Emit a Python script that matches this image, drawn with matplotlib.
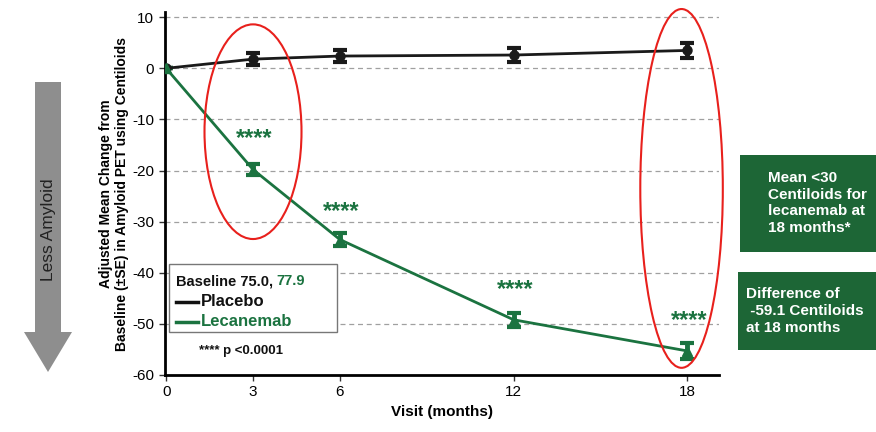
import matplotlib
matplotlib.use("Agg")
import matplotlib.pyplot as plt
from matplotlib.patches import Ellipse, FancyArrow, Rectangle
from matplotlib.lines import Line2D

plt.rcParams['font.family'] = ['Liberation Sans', 'DejaVu Sans']
plt.rcParams['axes.unicode_minus'] = False

visits = [0, 3, 6, 12, 18]
placebo = [0.0, 1.8, 2.4, 2.6, 3.5]
placebo_se = [0.0, 1.2, 1.2, 1.3, 1.4]
lecanemab = [0.0, -19.8, -33.5, -49.2, -55.3]
lecanemab_se = [0.0, 1.1, 1.3, 1.4, 1.5]
star_visits = [3, 6, 12, 18]
star_y = [-12.8, -27.0, -42.3, -48.4]
xticks = [0, 3, 6, 12, 18]
yticks = [10, 0, -10, -20, -30, -40, -50, -60]

green = '#1b7340'
boxgreen = '#1d6636'

fig = plt.figure(figsize=(8.76, 4.32), dpi=100)
ax = fig.add_axes([0.188, 0.132, 0.633, 0.840])

ax.set_xlim(-0.05, 19.1)
ax.set_ylim(-60, 11)
for y in yticks[:-1]:
    ax.axhline(y, color='#a0a0a0', lw=0.9, ls=(0, (4, 3)), zorder=0)

ax.errorbar(visits, placebo, yerr=placebo_se, color='#1a1a1a', lw=2.0,
            marker='o', ms=6.5, capsize=5, capthick=3, elinewidth=3.5, zorder=3)
ax.errorbar(visits, lecanemab, yerr=lecanemab_se, color=green, lw=2.0,
            marker='^', ms=7.5, capsize=5, capthick=3, elinewidth=3.5, zorder=3)

for xv, yv in zip(star_visits, star_y):
    ax.text(xv + 0.05, yv - 2.3, '****', color=green, fontsize=17, fontweight='bold',
            ha='center', va='baseline')

ax.add_patch(Ellipse((3.0, -12.4), 3.35, 42, fill=False, ec='#e8201c', lw=1.5,
                     clip_on=False, zorder=4))
ax.add_patch(Ellipse((17.8, -23.5), 2.85, 70.2, fill=False, ec='#e8201c', lw=1.5,
                     clip_on=False, zorder=4))

ax.set_xticks(xticks)
ax.set_yticks(yticks)
ax.tick_params(labelsize=11, length=4, width=1, color='#333333')
for s in ['top', 'right']:
    ax.spines[s].set_visible(False)
for s in ['left', 'bottom']:
    ax.spines[s].set_linewidth(2)
ax.set_xlabel('Visit (months)', fontsize=11, fontweight='bold', labelpad=4)
ax.set_ylabel('Adjusted Mean Change from\nBaseline (\u00b1SE) in Amyloid PET using Centiloids',
              fontsize=10, fontweight='bold', labelpad=2)

# legend box
ax.add_patch(Rectangle((0.1, -51.5), 5.8, 13.2, fill=True, fc='white',
                       ec='#777777', lw=1, zorder=5))
t1 = ax.text(0.35, -41.7, 'Baseline 75.0,', fontsize=10.5, fontweight='bold',
             color='#111111', va='center', zorder=6)
fig.canvas.draw()
bb = t1.get_window_extent()
x_end = ax.transData.inverted().transform((bb.x1 + 3, bb.y0))[0]
ax.text(x_end, -41.7, '77.9', fontsize=10.5, fontweight='bold', color=green,
        va='center', zorder=6)
ax.add_line(Line2D([0.35, 1.1], [-45.7, -45.7], color='#111111', lw=2.5, zorder=6))
ax.text(1.2, -45.7, 'Placebo', fontsize=12, fontweight='bold', color='#111111',
        va='center', zorder=6)
ax.add_line(Line2D([0.35, 1.1], [-49.6, -49.6], color=green, lw=2.5, zorder=6))
ax.text(1.2, -49.6, 'Lecanemab', fontsize=12, fontweight='bold', color=green,
        va='center', zorder=6)
ax.text(2.6, -55.4, '**** p <0.0001', fontsize=9.5, fontweight='bold',
        color='#111111', ha='center', va='center', zorder=6)

# left arrow
fig.add_artist(FancyArrow(48/876, 1 - 82/432, 0, -(372-82)/432, width=26/876,
                          head_width=48/876, head_length=40/432,
                          length_includes_head=True, transform=fig.transFigure,
                          color='#8e8e8e', lw=0))
fig.text(48/876, 1 - 230/432, 'Less Amyloid', rotation=90, fontsize=12.5,
         ha='center', va='center', color='#222222')

# right boxes
fig.add_artist(Rectangle((740/876, 1 - 252/432), 136/876, 97/432,
                         transform=fig.transFigure, color=boxgreen, lw=0))
fig.text(768/876, 1 - 203/432, 'Mean <30\nCentiloids for\nlecanemab at\n18 months*',
         fontsize=11, fontweight='bold', color='white', ha='left', va='center',
         linespacing=1.25)
fig.add_artist(Rectangle((738/876, 1 - 350/432), 138/876, 78/432,
                         transform=fig.transFigure, color=boxgreen, lw=0))
fig.text(746/876, 1 - 311/432, 'Difference of\n -59.1 Centiloids\nat 18 months',
         fontsize=11, fontweight='bold', color='white', ha='left', va='center',
         linespacing=1.25)

fig.savefig('out.png', dpi=100)
